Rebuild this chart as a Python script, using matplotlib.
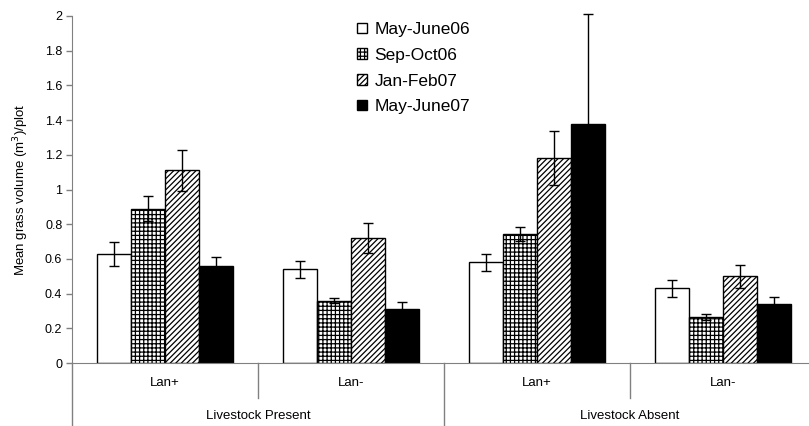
import matplotlib.pyplot as plt
import numpy as np

plt.rcParams['font.family'] = ['Liberation Sans', 'DejaVu Sans']
plt.rcParams['hatch.linewidth'] = 0.9

# dane
groups = ['Lan+', 'Lan-', 'Lan+', 'Lan-']
livestock = ['Livestock Present', 'Livestock Absent']
seasons = ['May-June06', 'Sep-Oct06', 'Jan-Feb07', 'May-June07']

may06 = [0.63, 0.54, 0.58, 0.43]
may06_err = [0.07, 0.05, 0.05, 0.05]
sep06 = [0.89, 0.36, 0.745, 0.265]
sep06_err = [0.07, 0.015, 0.04, 0.02]
jan07 = [1.11, 0.72, 1.18, 0.50]
jan07_err = [0.12, 0.085, 0.155, 0.065]
may07 = [0.56, 0.31, 1.375, 0.34]
may07_err = [0.05, 0.04, 0.635, 0.04]

values = [may06, sep06, jan07, may07]
errors = [may06_err, sep06_err, jan07_err, may07_err]
faces = ['white', 'white', 'white', 'black']
hatches = ['', '++++', '//////', '']

fig = plt.figure(figsize=(8.09, 4.26), dpi=100)
ax = fig.add_axes([72 / 809, 63 / 426, 744 / 809, 347 / 426])

x = np.arange(len(groups))
w = 0.183
for i in range(4):
    ax.bar(x + (i - 1.5) * w, values[i], w, color=faces[i], edgecolor='black',
           hatch=hatches[i], linewidth=1, label=seasons[i], zorder=2)
    eb = ax.errorbar(x + (i - 1.5) * w, values[i], yerr=errors[i], fmt='none',
                     ecolor='black', elinewidth=1, capsize=3.6, capthick=1, zorder=3)
    for a in eb.lines[1] + eb.lines[2]:
        a.set_clip_on(False)

ax.set_xlim(-0.5, 3.5)
ax.set_ylim(0, 2)
ax.set_yticks(np.arange(0, 2.01, 0.2))
ax.set_yticklabels(['0', '0.2', '0.4', '0.6', '0.8', '1', '1.2', '1.4', '1.6', '1.8', '2'])
ax.tick_params(axis='y', labelsize=9, length=4, color='#808080', width=1, pad=3)
ax.set_xticks([])
ax.set_ylabel('Mean grass volume (m$^3$)/plot', fontsize=9.5, labelpad=10)

for s in ['top', 'right']:
    ax.spines[s].set_visible(False)
ax.spines['left'].set_color('#808080')
ax.spines['bottom'].set_color('#808080')

# oś kategorii pod wykresem
grey = '#808080'
trans = ax.get_xaxis_transform()
ax.plot([-0.5, -0.5], [0, -0.18], transform=trans, color=grey, lw=1, clip_on=False)
for xd in [0.5, 2.5]:
    ax.plot([xd, xd], [0, -0.1], transform=trans, color=grey, lw=1, clip_on=False)
ax.plot([1.5, 1.5], [0, -0.18], transform=trans, color=grey, lw=1, clip_on=False)

for xi, g in zip(x, groups):
    ax.text(xi, -0.057, g, transform=trans, ha='center', va='center', fontsize=9.5)
for xi, l in zip([0.5, 2.5], livestock):
    ax.text(xi, -0.153, l, transform=trans, ha='center', va='center', fontsize=9.5)

ax.legend(loc='upper left', bbox_to_anchor=(357 / 809, 1 - 22 / 426),
          bbox_transform=fig.transFigure, frameon=False, fontsize=12.5,
          handlelength=0.55, handleheight=0.55, handletextpad=0.45,
          labelspacing=0.62, borderpad=0, borderaxespad=0)

fig.savefig('out.png', dpi=100)
